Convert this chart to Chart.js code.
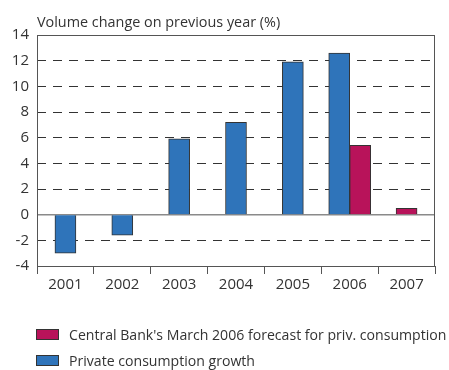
<!DOCTYPE html>
<html>
<head>
<meta charset="utf-8">
<script src="https://cdn.jsdelivr.net/npm/chart.js@4/dist/chart.umd.min.js"></script>
<style>
  html, body { margin: 0; padding: 0; background: #fff; }
  #wrap { position: relative; width: 449px; height: 370px; }
  #legend { position: absolute; left: 36px; top: 321px; font-family: "Open Sans", sans-serif; font-size: 14.1px; color: #333; white-space: nowrap; }
  #legend .item { display: flex; align-items: center; height: 26px; }
  #legend .box { width: 21px; height: 9px; border: 1px solid #333; margin-right: 10px; }
</style>
</head>
<body>
<div id="wrap">
  <canvas id="chart" width="449" height="370"></canvas>
  <div id="legend"></div>
</div>
<script>
  "use strict";
  const years = ["2001", "2002", "2003", "2004", "2005", "2006", "2007"];
  const growth = [-3.0, -1.6, 5.9, 7.2, 11.9, 12.6, null];
  const forecast = [null, null, null, null, null, 5.4, 0.5];
  const yTicks = [-4, -2, 0, 2, 4, 6, 8, 10, 12, 14];

  const BLUE = "#2f74ba";
  const RED = "#b8135a";
  const FONT = "'Open Sans', sans-serif";

  // frame, solid zero line and the title above the plot
  const frame = {
    id: "frame",
    beforeDatasetsDraw(chart) {
      const { ctx, chartArea: a, scales } = chart;
      const y0 = scales.y.getPixelForValue(0);
      ctx.save();
      ctx.strokeStyle = "#8a8a8a";
      ctx.lineWidth = 1.5;
      ctx.beginPath();
      ctx.moveTo(a.left, y0);
      ctx.lineTo(a.right, y0);
      ctx.stroke();
      ctx.restore();
    },
    afterDraw(chart) {
      const { ctx, chartArea: a } = chart;
      ctx.save();
      ctx.strokeStyle = "#555";
      ctx.lineWidth = 1;
      ctx.strokeRect(a.left + 0.5, a.top + 0.5, a.right - a.left - 1, a.bottom - a.top);
      ctx.fillStyle = "#333";
      ctx.font = "14.4px " + FONT;
      ctx.textBaseline = "alphabetic";
      ctx.fillText("Volume change on previous year (%)", a.left, 27);
      ctx.restore();
    }
  };

  const chart = new Chart(document.getElementById("chart"), {
    type: "bar",
    data: {
      labels: years,
      datasets: [
        { label: "Private consumption growth", data: growth, backgroundColor: BLUE },
        { label: "Central Bank's March 2006 forecast for priv. consumption", data: forecast, backgroundColor: RED }
      ]
    },
    options: {
      responsive: false,
      animation: false,
      skipNull: true,
      barThickness: 21,
      borderColor: "#333",
      borderWidth: 1,
      layout: { padding: { top: 35, right: 14, bottom: 74, left: 0 } },
      plugins: { legend: { display: false }, tooltip: { enabled: false } },
      scales: {
        x: {
          offset: true,
          grid: { offset: true, drawOnChartArea: false, tickLength: 8, color: "#555", lineWidth: 1 },
          border: { display: false },
          ticks: { color: "#333", font: { family: FONT, size: 15 }, padding: 2 },
          afterFit(s) { s.height = 30; }
        },
        y: {
          min: -4,
          max: 14,
          afterBuildTicks(s) { s.ticks = yTicks.map((v) => ({ value: v })); },
          grid: {
            drawTicks: false,
            color: (c) => ([-4, 0, 14].includes(c.tick && c.tick.value) ? "transparent" : "#333"),
            lineWidth: 1
          },
          border: { display: false, dash: [9, 7] },
          ticks: { color: "#333", font: { family: FONT, size: 15 }, padding: 8 },
          afterFit(s) { s.width = 37; }
        }
      }
    },
    plugins: [frame]
  });

  // legend, forecast series listed first
  const legend = document.getElementById("legend");
  [1, 0].forEach((i) => {
    const ds = chart.data.datasets[i];
    const row = document.createElement("div");
    row.className = "item";
    const box = document.createElement("span");
    box.className = "box";
    box.style.background = ds.backgroundColor;
    const txt = document.createElement("span");
    txt.textContent = ds.label;
    row.appendChild(box);
    row.appendChild(txt);
    legend.appendChild(row);
  });
</script>
</body>
</html>
